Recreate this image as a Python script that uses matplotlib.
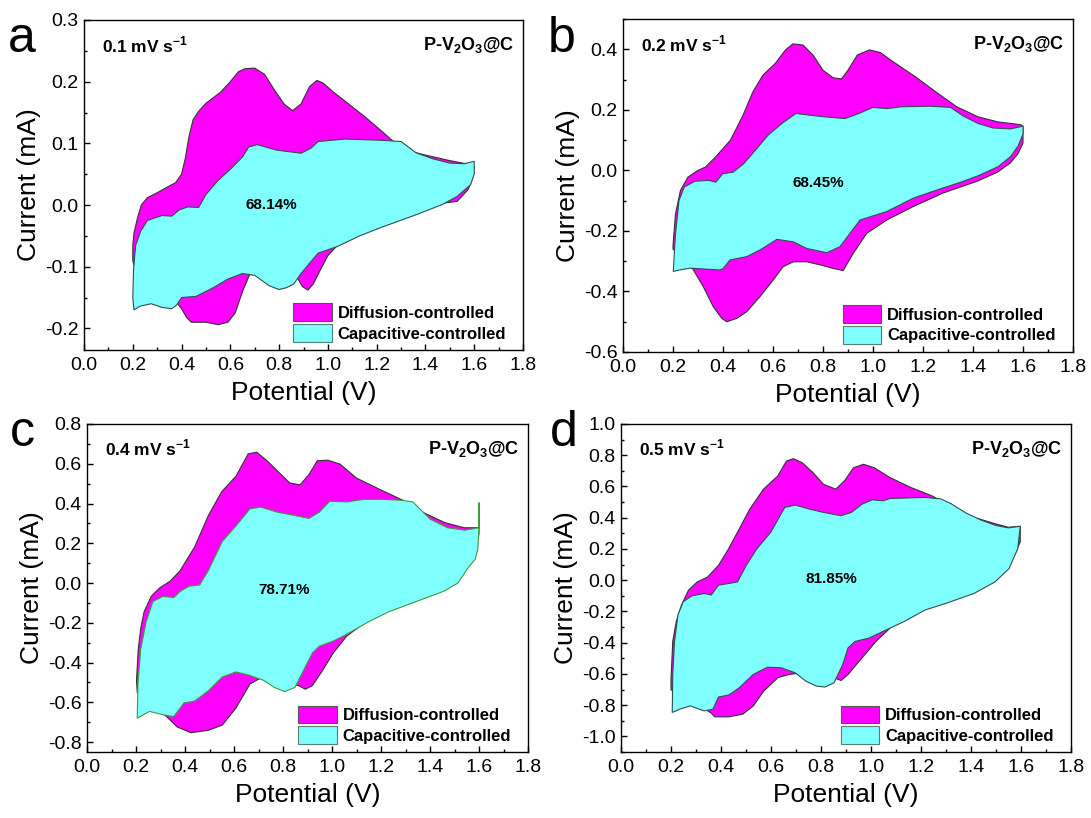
import matplotlib
matplotlib.use('Agg')
import matplotlib.pyplot as plt
import matplotlib.patches as mpatches
from matplotlib.ticker import MultipleLocator, FormatStrFormatter

plt.rcParams['font.family'] = ['Liberation Sans', 'DejaVu Sans']
plt.rcParams['axes.unicode_minus'] = False
plt.rcParams['mathtext.fontset'] = 'custom'
plt.rcParams['mathtext.rm'] = 'Liberation Sans'
plt.rcParams['mathtext.bf'] = 'Liberation Sans:bold'

# ---- panel a : 0.1 mV/s ----
a_tot_v = [0.20, 0.205, 0.22, 0.235, 0.26, 0.30, 0.35, 0.375, 0.40, 0.415, 0.43, 0.447, 0.47, 0.50, 0.56, 0.60,
           0.633, 0.66, 0.70, 0.74, 0.78, 0.82, 0.855, 0.89, 0.925, 0.955, 0.98, 1.02, 1.075, 1.146,
           1.22, 1.26, 1.32, 1.40, 1.50, 1.58, 1.60,
           1.60, 1.595, 1.575, 1.53, 1.47, 1.36, 1.22, 1.13, 1.04, 1.00, 0.968, 0.94, 0.918, 0.895,
           0.875, 0.85, 0.78, 0.70, 0.68, 0.65, 0.62, 0.59, 0.55, 0.50, 0.44, 0.42, 0.40, 0.38,
           0.30, 0.22, 0.20]
a_tot_i = [-0.066, -0.045, -0.02, 0.0, 0.012, 0.02, 0.031, 0.036, 0.05, 0.075, 0.11, 0.138, 0.152, 0.165, 0.183, 0.20,
           0.216, 0.221, 0.222, 0.212, 0.187, 0.164, 0.153, 0.164, 0.192, 0.202, 0.198, 0.184, 0.167, 0.145,
           0.12, 0.106, 0.089, 0.081, 0.072, 0.066, 0.062,
           0.062, 0.045, 0.025, 0.006, 0.003, -0.014, -0.034, -0.048, -0.065, -0.082, -0.106, -0.128, -0.138, -0.132,
           -0.118, -0.10, -0.10, -0.105, -0.112, -0.14, -0.175, -0.19, -0.194, -0.19, -0.19, -0.182, -0.168, -0.158,
           -0.14, -0.12, -0.09]
a_cap_v = [0.205, 0.20, 0.203, 0.212, 0.233, 0.26, 0.32, 0.36, 0.39, 0.425, 0.47, 0.50, 0.55, 0.60, 0.65,
           0.675, 0.71, 0.79, 0.89, 0.93, 0.96, 1.07, 1.22, 1.30, 1.36, 1.43, 1.50, 1.56, 1.60,
           1.60, 1.585, 1.53, 1.47, 1.36, 1.22, 1.13, 1.04, 0.96, 0.93, 0.89, 0.86, 0.83, 0.80, 0.76,
           0.70, 0.65, 0.59, 0.53, 0.46, 0.40, 0.38, 0.36, 0.32, 0.275, 0.23, 0.205]
a_cap_i = [-0.17, -0.15, -0.105, -0.065, -0.042, -0.025, -0.017, -0.018, -0.008, -0.003, -0.004, 0.017, 0.04, 0.058, 0.078,
           0.094, 0.098, 0.089, 0.084, 0.092, 0.103, 0.107, 0.105, 0.103, 0.085, 0.075, 0.068, 0.067, 0.071,
           0.05, 0.033, 0.014, 0.001, -0.016, -0.036, -0.05, -0.067, -0.078, -0.092, -0.111, -0.128, -0.134, -0.137, -0.131,
           -0.114, -0.111, -0.12, -0.134, -0.148, -0.15, -0.162, -0.168, -0.166, -0.16, -0.164, -0.17]

# ---- panel b : 0.2 mV/s ----
b_tot_v = [0.20, 0.21, 0.23, 0.26, 0.30, 0.33, 0.37, 0.43, 0.48, 0.52, 0.56, 0.61, 0.65, 0.68, 0.72, 0.76,
           0.80, 0.84, 0.874, 0.90, 0.937, 0.986, 1.03, 1.08, 1.17, 1.25, 1.335, 1.42, 1.50, 1.59, 1.60,
           1.60, 1.58, 1.55, 1.50, 1.42, 1.35, 1.28, 1.16, 1.055, 0.975, 0.921, 0.881, 0.841, 0.788,
           0.735, 0.681, 0.641, 0.601, 0.548, 0.495, 0.455, 0.415, 0.395, 0.361, 0.321, 0.275, 0.24, 0.20]
b_tot_i = [-0.249, -0.144, -0.066, -0.022, 0.0, 0.011, 0.044, 0.10, 0.182, 0.26, 0.315, 0.354, 0.398, 0.418, 0.414, 0.381,
           0.331, 0.306, 0.302, 0.331, 0.381, 0.398, 0.389, 0.359, 0.309, 0.26, 0.21, 0.177, 0.16, 0.151, 0.146,
           0.09, 0.055, 0.025, -0.005, -0.035, -0.055, -0.075, -0.12, -0.164, -0.208, -0.274, -0.331, -0.324, -0.312,
           -0.302, -0.302, -0.318, -0.362, -0.417, -0.467, -0.489, -0.50, -0.489, -0.45, -0.384, -0.32, -0.29, -0.26]
b_cap_v = [0.201, 0.21, 0.224, 0.245, 0.287, 0.343, 0.371, 0.399, 0.44, 0.483, 0.524, 0.58, 0.636, 0.692,
           0.748, 0.804, 0.888, 0.944, 1.0, 1.056, 1.112, 1.224, 1.31, 1.36, 1.42, 1.48, 1.55, 1.60,
           1.60, 1.58, 1.55, 1.50, 1.42, 1.348, 1.255, 1.161, 1.055, 0.948, 0.908, 0.868, 0.815, 0.735,
           0.681, 0.615, 0.548, 0.495, 0.428, 0.40, 0.388, 0.268, 0.22, 0.201]
b_cap_i = [-0.334, -0.21, -0.10, -0.055, -0.036, -0.033, -0.039, -0.011, -0.006, 0.022, 0.061, 0.116, 0.155, 0.188,
           0.182, 0.177, 0.171, 0.188, 0.208, 0.204, 0.21, 0.212, 0.208, 0.18, 0.155, 0.14, 0.137, 0.146,
           0.12, 0.08, 0.045, 0.012, -0.018, -0.04, -0.065, -0.092, -0.136, -0.164, -0.208, -0.252, -0.272, -0.258,
           -0.236, -0.228, -0.263, -0.285, -0.296, -0.325, -0.329, -0.323, -0.33, -0.334]

# ---- panel c : 0.4 mV/s ----
c_tot_v = [0.202, 0.209, 0.219, 0.233, 0.262, 0.297, 0.34, 0.38, 0.44, 0.495, 0.55, 0.608, 0.658, 0.693,
           0.735, 0.778, 0.828, 0.87, 0.906, 0.94, 0.983, 1.033, 1.10, 1.20, 1.29, 1.37, 1.46, 1.54, 1.60,
           1.60, 1.59, 1.57, 1.53, 1.46, 1.344, 1.231, 1.146, 1.118, 1.061, 1.005, 0.962, 0.92, 0.891,
           0.863, 0.80, 0.72, 0.665, 0.608, 0.552, 0.495, 0.424, 0.368, 0.325, 0.28, 0.24, 0.205]
c_tot_i = [-0.49, -0.335, -0.231, -0.145, -0.067, -0.024, 0.01, 0.062, 0.183, 0.339, 0.46, 0.537, 0.65, 0.658,
           0.615, 0.563, 0.503, 0.494, 0.546, 0.615, 0.618, 0.598, 0.528, 0.468, 0.416, 0.356, 0.304, 0.278, 0.278,
           0.25, 0.17, 0.11, 0.05, 0.0, -0.088, -0.14, -0.19, -0.214, -0.266, -0.352, -0.439, -0.516, -0.534,
           -0.516, -0.50, -0.47, -0.508, -0.629, -0.715, -0.741, -0.753, -0.724, -0.672, -0.63, -0.60, -0.55]
c_cap_v = [0.205, 0.208, 0.219, 0.241, 0.269, 0.311, 0.354, 0.382, 0.417, 0.46, 0.495, 0.552, 0.608, 0.665,
           0.708, 0.778, 0.849, 0.906, 0.948, 0.991, 1.061, 1.132, 1.203, 1.288, 1.33, 1.401, 1.472, 1.542, 1.60,
           1.60, 1.60, 1.595, 1.585, 1.557, 1.514, 1.457, 1.344, 1.231, 1.146, 1.061, 1.005, 0.948, 0.92,
           0.877, 0.849, 0.807, 0.764, 0.722, 0.665, 0.608, 0.552, 0.495, 0.439, 0.396, 0.354, 0.311, 0.255, 0.205]
c_cap_i = [-0.68, -0.508, -0.335, -0.197, -0.093, -0.067, -0.073, -0.041, -0.016, -0.01, 0.062, 0.209, 0.287, 0.373,
           0.382, 0.356, 0.339, 0.325, 0.356, 0.411, 0.408, 0.421, 0.421, 0.416, 0.408, 0.321, 0.278, 0.266, 0.278,
           0.405, 0.278, 0.17, 0.12, 0.079, 0.0, -0.041, -0.093, -0.145, -0.197, -0.257, -0.292, -0.318, -0.352,
           -0.456, -0.525, -0.546, -0.525, -0.49, -0.465, -0.447, -0.473, -0.542, -0.594, -0.603, -0.672, -0.663, -0.646, -0.68]

# ---- panel d : 0.5 mV/s ----
d_tot_v = [0.20, 0.207, 0.221, 0.242, 0.27, 0.305, 0.347, 0.39, 0.43, 0.473, 0.515, 0.57, 0.627, 0.662,
           0.69, 0.725, 0.768, 0.81, 0.859, 0.894, 0.93, 0.97, 1.013, 1.076, 1.16, 1.244, 1.33, 1.41, 1.50,
           1.55, 1.597,
           1.597, 1.573, 1.524, 1.468, 1.384, 1.272, 1.16, 1.076, 1.02, 0.964, 0.908, 0.88, 0.852, 0.80,
           0.76, 0.725, 0.67, 0.627, 0.571, 0.529, 0.487, 0.431, 0.375, 0.36, 0.33, 0.25, 0.20]
d_tot_i = [-0.636, -0.392, -0.265, -0.159, -0.064, -0.011, 0.021, 0.095, 0.20, 0.328, 0.455, 0.583, 0.667, 0.763,
           0.778, 0.752, 0.689, 0.614, 0.583, 0.636, 0.72, 0.742, 0.72, 0.657, 0.593, 0.54, 0.466, 0.403, 0.36,
           0.339, 0.345,
           0.244, 0.159, 0.085, 0.032, -0.032, -0.117, -0.20, -0.307, -0.392, -0.498, -0.604, -0.642, -0.625, -0.60,
           -0.60, -0.593, -0.604, -0.625, -0.71, -0.805, -0.858, -0.875, -0.875, -0.85, -0.82, -0.78, -0.70]
d_cap_v = [0.205, 0.207, 0.214, 0.228, 0.249, 0.284, 0.333, 0.361, 0.39, 0.431, 0.466, 0.501, 0.543, 0.599,
           0.655, 0.697, 0.754, 0.81, 0.88, 0.922, 0.964, 1.006, 1.048, 1.076, 1.216, 1.28, 1.32, 1.38,
           1.44, 1.50, 1.55, 1.597,
           1.587, 1.552, 1.496, 1.412, 1.30, 1.216, 1.132, 1.048, 0.992, 0.936, 0.908, 0.887, 0.852, 0.816,
           0.781, 0.739, 0.697, 0.641, 0.585, 0.529, 0.473, 0.431, 0.39, 0.368, 0.333, 0.277, 0.235, 0.205]
d_cap_i = [-0.847, -0.604, -0.392, -0.222, -0.138, -0.10, -0.085, -0.095, -0.032, -0.021, -0.011, 0.095, 0.20, 0.307,
           0.466, 0.481, 0.455, 0.434, 0.413, 0.434, 0.487, 0.515, 0.508, 0.523, 0.53, 0.52, 0.49, 0.43,
           0.385, 0.35, 0.335, 0.345,
           0.201, 0.074, -0.011, -0.085, -0.148, -0.191, -0.265, -0.328, -0.371, -0.392, -0.434, -0.54, -0.657, -0.684,
           -0.678, -0.646, -0.593, -0.561, -0.557, -0.604, -0.689, -0.735, -0.748, -0.826, -0.837, -0.805, -0.826, -0.847]

letters = ['a', 'b', 'c', 'd']
rates = ['0.1', '0.2', '0.4', '0.5']
percents = ['68.14%', '68.45%', '78.71%', '81.85%']
percent_pos = [(0.77, 0.0), (0.78, -0.042), (0.805, -0.035), (0.84, 0.01)]
ylims = [(-0.235, 0.3), (-0.6, 0.5), (-0.85, 0.8), (-1.1, 1.0)]
ymajor = [0.1, 0.2, 0.2, 0.2]
loops = [(a_tot_v, a_tot_i, a_cap_v, a_cap_i),
         (b_tot_v, b_tot_i, b_cap_v, b_cap_i),
         (c_tot_v, c_tot_i, c_cap_v, c_cap_i),
         (d_tot_v, d_tot_i, d_cap_v, d_cap_i)]

# axes boxes in pixels: left, top, right, bottom
W, H = 1091, 818
boxes = [(84, 20, 523, 350), (623, 19, 1073, 352), (87, 424, 528, 752), (621, 424, 1071, 752)]
letter_xy = [(8, 52), (548, 52), (10, 446), (550, 446)]

MAG = '#FF00FF'
CYAN = '#80FFFF'

fig = plt.figure(figsize=(W / 100, H / 100), dpi=100)

for k in range(4):
    l, t, r, b = boxes[k]
    ax = fig.add_axes([l / W, 1 - b / H, (r - l) / W, (b - t) / H])
    tv, ti, cv, ci = loops[k]
    ax.fill(tv, ti, facecolor=MAG, edgecolor='#333333', linewidth=0.8, zorder=2)
    cap_edge = '#3c9c3c' if k == 2 else '#2f4f4f'
    ax.fill(cv, ci, facecolor=CYAN, edgecolor=cap_edge, linewidth=0.8, zorder=3)

    ax.set_xlim(0, 1.8)
    ax.set_ylim(*ylims[k])
    ax.xaxis.set_major_locator(MultipleLocator(0.2))
    ax.xaxis.set_minor_locator(MultipleLocator(0.1))
    ax.yaxis.set_major_locator(MultipleLocator(ymajor[k]))
    ax.yaxis.set_minor_locator(MultipleLocator(ymajor[k] / 2))
    ax.xaxis.set_major_formatter(FormatStrFormatter('%.1f'))
    ax.yaxis.set_major_formatter(FormatStrFormatter('%.1f'))
    ax.tick_params(which='both', direction='in', top=False, right=False, width=1.0)
    ax.tick_params(which='major', length=4, labelsize=14)
    ax.tick_params(which='minor', length=2.2)
    ax.tick_params(axis='x', pad=5)
    ax.tick_params(axis='y', pad=4)
    for s in ax.spines.values():
        s.set_linewidth(1.0)

    ax.set_xlabel('Potential (V)', fontsize=19, labelpad=5)
    ax.set_ylabel('Current (mA)', fontsize=19, labelpad=3)

    ax.text(0.04, 0.925, r'%s mV s$^{\mathbf{-1}}$' % rates[k], transform=ax.transAxes,
            fontsize=12.5, fontweight='bold', va='center', ha='left')
    ax.text(0.98, 0.925, r'P-V$_{\mathbf{2}}$O$_{\mathbf{3}}$@C', transform=ax.transAxes,
            fontsize=13, fontweight='bold', va='center', ha='right')
    px, py = percent_pos[k]
    ax.text(px, py, percents[k], fontsize=11, fontweight='bold', ha='center', va='center', zorder=5)

    handles = [mpatches.Patch(facecolor=MAG, edgecolor='#555555', linewidth=0.8, label='Diffusion-controlled'),
               mpatches.Patch(facecolor=CYAN, edgecolor='#4f7f7f', linewidth=0.8, label='Capacitive-controlled')]
    ax.legend(handles=handles, loc='lower right', bbox_to_anchor=(0.965, 0.02),
              frameon=False, borderaxespad=0, borderpad=0.1,
              handlelength=2.3, handleheight=1.25, handletextpad=0.35, labelspacing=0.18,
              prop={'size': 12, 'weight': 'bold'})

    lx, ly = letter_xy[k]
    fig.text(lx / W, 1 - ly / H, letters[k], fontsize=36, ha='left', va='baseline')

fig.savefig('out.png', dpi=100)
